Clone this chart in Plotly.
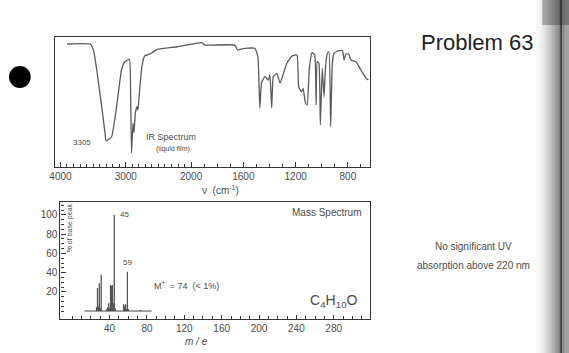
import plotly.graph_objects as go

# ---------------- data ----------------
ir_wavenumber = [3900, 3545, 3495, 3444, 3368, 3318, 3300, 3217, 3141, 3065, 3015, 2945, 2925, 2912,
                 2889, 2874, 2853, 2829, 2814, 2788, 2753, 2712, 2611, 2515, 2212, 1915, 1899, 1667,
                 1644, 1590, 1512, 1489, 1474, 1461, 1435, 1409, 1397, 1383, 1371, 1344, 1319, 1293,
                 1267, 1228, 1190, 1177, 1156, 1143, 1125, 1112, 1094, 1074, 1054, 1043, 1035, 1022,
                 1011, 996, 983, 971, 957, 945, 932, 919, 906, 868, 841, 829, 816, 795, 777, 739,
                 700, 661, 643]
ir_transmittance = [94.6, 94.6, 90, 74.6, 46.4, 26.2, 20, 23.3, 46.4, 74.6, 81, 82.8, 54, 10.8,
                    33.8, 26.2, 41.5, 46.4, 43.8, 59.2, 77.2, 85.4, 87.5, 90.5, 92.5, 95.6, 93.8, 93.8,
                    90, 91.3, 91.3, 85, 45.4, 64.6, 69.5, 66.9, 70.8, 45.4, 69.5, 72.1, 64.6, 72.1,
                    79.8, 85.4, 86.2, 61.8, 57.9, 60.5, 49.2, 47.7, 77.2, 87.9, 86.2, 47.7, 81, 79.8,
                    32.3, 75.9, 54, 77.2, 87.5, 88.5, 31, 79.8, 87.5, 89.5, 89.5, 82.3, 86.9, 86.9, 82.3, 81,
                    74.6, 68.2, 66.9]
ir_tick_values = [4000, 3000, 2000, 1600, 1200, 800]
ir_tick_labels = ["4000", "3000", "2000", "1600", "1200", "800"]

ms_mass = [26, 27, 28, 29, 30, 31, 37, 38, 39, 40, 41, 42, 43, 44, 45, 46, 55, 56, 57, 58, 59, 60, 73]
ms_intensity = [4, 24, 5, 29, 3, 38, 2, 4, 8, 3, 27, 26, 27, 8, 100, 3, 7, 5, 7, 2, 41, 2, 1]
ms_baseline_mass = [13, 85]
ms_xticks = [40, 80, 120, 160, 200, 240, 280]
ms_yticks = [20, 40, 60, 80, 100]


# split-scale IR axis: 4000-2000 at one scale, below 2000 at double scale
def ir_pos(w):
    return (4000 - w) / 1000 if w >= 2000 else 2 + (2000 - w) / 500


W, H = 569, 353


def px(x):
    return x / W


def py(y):
    return 1 - y / H


INK = "#4a4a4a"
FONT = "Liberation Sans, Arial, Helvetica, sans-serif"

fig = go.Figure()

# IR spectrum
fig.add_trace(go.Scatter(
    x=[ir_pos(w) for w in ir_wavenumber], y=ir_transmittance,
    mode="lines", line=dict(color="#5a5a5a", width=1.3, shape="spline", smoothing=0.4),
    xaxis="x", yaxis="y", hoverinfo="skip", showlegend=False))

# Mass spectrum sticks
sx, sy = [], []
for m, h in zip(ms_mass, ms_intensity):
    sx += [m, m, None]
    sy += [0, h, None]
fig.add_trace(go.Scatter(x=sx, y=sy, mode="lines", line=dict(color="#555", width=1.3),
                         xaxis="x2", yaxis="y2", hoverinfo="skip", showlegend=False))
fig.add_trace(go.Scatter(x=ms_baseline_mass, y=[0, 0], mode="lines", line=dict(color="#444", width=1),
                         xaxis="x2", yaxis="y2", hoverinfo="skip", showlegend=False))

minor_ir = [ir_pos(w) for w in range(4000, 599, -100)]

axis_common = dict(showline=True, mirror=True, linecolor="#333", linewidth=1.2,
                   showgrid=False, zeroline=False, ticks="inside", tickcolor="#333")

fig.update_layout(
    width=W, height=H, margin=dict(l=0, r=0, t=0, b=0),
    paper_bgcolor="white", plot_bgcolor="white",
    font=dict(family=FONT, color=INK),
    xaxis=dict(domain=[px(50), px(368)], range=[-0.076, 4.74], anchor="y",
               tickvals=[ir_pos(w) for w in ir_tick_values], ticktext=ir_tick_labels,
               ticklen=5, tickfont=dict(size=10, color=INK),
               minor=dict(tickvals=minor_ir, ticklen=3, ticks="inside", tickcolor="#333"),
               **axis_common),
    yaxis=dict(domain=[py(167), py(37)], range=[0, 100], anchor="x",
               showticklabels=False, ticklen=0, **{k: v for k, v in axis_common.items() if k != "ticks"}),
    xaxis2=dict(domain=[px(55), px(368)], range=[-12.7, 319], anchor="y2",
                tickvals=ms_xticks, ticklen=4, tickfont=dict(size=10, color=INK),
                minor=dict(tickvals=list(range(0, 320, 10)), ticklen=3, ticks="inside", tickcolor="#333"),
                **axis_common),
    yaxis2=dict(domain=[py(319), py(202)], range=[-8.3, 113.5], anchor="x2",
                tickvals=ms_yticks, ticklen=5, tickfont=dict(size=10, color=INK),
                minor=dict(tickvals=list(range(0, 111, 5)), ticklen=3, ticks="inside", tickcolor="#333"),
                **axis_common),
)

ann = []


def text(x, y, s, size, **kw):
    ann.append(dict(x=px(x), y=py(y), xref="paper", yref="paper", text=s, showarrow=False,
                    xanchor="center", yanchor="middle",
                    font=dict(size=size, family=FONT, color=kw.pop("color", INK)), **kw))


text(477, 42, "Problem 63", 22, color="#222")
text(77, 143, "3305", 8)
text(167, 137, "IR Spectrum", 9)
text(169, 149, "(liquid film)", 7)
text(217, 190, "ν  (cm<sup>-1</sup>)", 10)
text(324, 212, "Mass Spectrum", 10)
text(120, 214, "45", 8)
text(123, 262, "59", 8)
text(182, 285, "M<sup>+·</sup> = 74  (< 1%)", 9)
text(331, 301, "C<sub>4</sub>H<sub>10</sub>O", 14)
text(193, 341, "<i>m / e</i>", 10)
text(65, 228, "% of base peak", 7, textangle=-90)
text(472, 246, "No significant UV", 10)
text(472, 265, "absorption above 220 nm", 10)
fig.update_layout(annotations=ann)

shapes = [dict(type="circle", xref="paper", yref="paper", x0=px(3), x1=px(25), y0=py(88), y1=py(66),
               fillcolor="black", line=dict(color="black", width=0))]
# scanned dark edge on the right
strip = [(536, 540, 0.04), (540, 543, 0.08), (543, 546, 0.13), (546, 549, 0.2), (549, 552, 0.28),
         (552, 555, 0.36), (555, 558, 0.45), (558, 560, 0.55), (560, 562, 0.85), (562, 565, 0.5),
         (565, 569, 0.42)]
for x0, x1, op in strip:
    shapes.append(dict(type="rect", xref="paper", yref="paper", x0=px(x0), x1=px(x1), y0=0, y1=1,
                       fillcolor=f"rgba(30,30,30,{op})", line=dict(width=0), layer="below"))
shapes.append(dict(type="rect", xref="paper", yref="paper", x0=px(542), x1=px(569), y0=py(25), y1=1,
                   fillcolor="rgba(20,20,20,0.3)", line=dict(width=0), layer="below"))
fig.update_layout(shapes=shapes)

fig.write_html("out.html")
